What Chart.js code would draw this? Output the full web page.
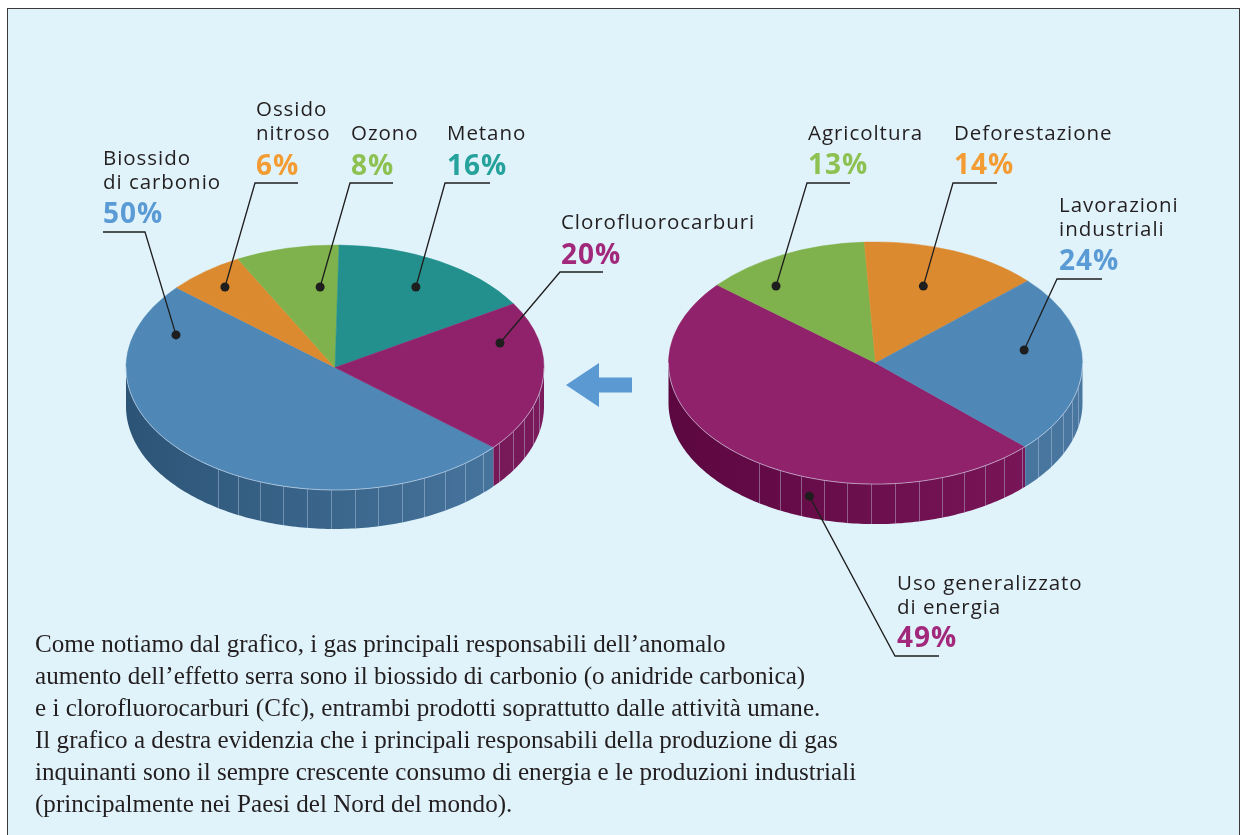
<!DOCTYPE html>
<html><head><meta charset="utf-8">
<script src="https://cdn.jsdelivr.net/npm/chart.js@4.4.1/dist/chart.umd.min.js"></script>
<style>
html,body{margin:0;padding:0;background:#fff;width:1242px;height:835px;overflow:hidden;position:relative}
#frame{position:absolute;left:7px;top:8px;width:1233px;height:840px;background:#e0f2fa;border:1.5px solid #3a3a3a;box-sizing:border-box}
canvas{position:absolute;left:0;top:0}
svg{position:absolute;left:0;top:0}
.lbl{position:absolute;font-family:"Open Sans";font-size:20.5px;letter-spacing:0.95px;line-height:24px;color:#231f20;white-space:pre}
.pct{position:absolute;font-family:"Open Sans";font-weight:700;font-size:28px;letter-spacing:1px;line-height:28px;white-space:nowrap}
#note{position:absolute;left:35px;top:628px;font-family:"Liberation Serif";font-size:25.1px;line-height:32px;color:#231f20;white-space:nowrap}
</style></head>
<body>
<div id="frame"></div>
<svg width="1242" height="835"><polygon points="566,385 599,363 599,377.5 632,377.5 632,392.5 599,392.5 599,407" fill="#5b99d2"/></svg>
<canvas id="c1" width="1242" height="835"></canvas>
<canvas id="c2" width="1242" height="835"></canvas>
<div id="labels"></div>
<div id="note">Come notiamo dal grafico, i gas principali responsabili dell’anomalo<br>aumento dell’effetto serra sono il biossido di carbonio (o anidride carbonica)<br>e i clorofluorocarburi (Cfc), entrambi prodotti soprattutto dalle attività umane.<br>Il grafico a destra evidenzia che i principali responsabili della produzione di gas<br>inquinanti sono il sempre crescente consumo di energia e le produzioni industriali<br>(principalmente nei Paesi del Nord del mondo).</div>
<script>
// ---- data ----
const gasCategories = ['Biossido\ndi carbonio', 'Ossido\nnitroso', 'Ozono', 'Metano', 'Clorofluorocarburi'];
const gasValues = [50, 6, 8, 16, 20];
const sourceCategories = ['Uso generalizzato\ndi energia', 'Agricoltura', 'Deforestazione', 'Lavorazioni\nindustriali'];
const sourceValues = [49, 13, 14, 24];

// ---- styles ----
const gasTop = ['#4f87b6', '#dc8a2f', '#7fb24c', '#23908d', '#90216b'];
const gasSide = [['#2c5476', '#4a78a2'], ['#b06a1e', '#c27a28'], ['#5e8c35', '#6c9a3e'], ['#1a6e6c', '#1f7c79'], ['#5c0942', '#7a1a5b']];
const gasPct = ['#5b9bd5', '#f39c34', '#8dc152', '#26a29c', '#a1287b'];
const srcTop = ['#90216b', '#7fb24c', '#dc8a2f', '#4f87b6'];
const srcSide = [['#5c0740', '#7d175b'], ['#5e8c35', '#6c9a3e'], ['#b06a1e', '#c27a28'], ['#3d6992', '#4a77a0']];
const srcPct = ['#a1287b', '#8dc152', '#f39c34', '#5b9bd5'];

const W = 1242, H = 835;
const ribs = [];
for (let d = 12; d <= 128; d += 6.6) ribs.push(d);

const pie3d = {
  id: 'pie3d',
  beforeDatasetsDraw(chart, args, o) {
    const ctx = chart.ctx, arcs = chart.getDatasetMeta(0).data;
    const cx = arcs[0].x, cy = arcs[0].y, r = arcs[0].outerRadius, k = o.k, depth = o.depth;
    arcs.forEach((a, i) => {
      const sc = o.sideColors[i];
      for (const off of [-2 * Math.PI, 0, 2 * Math.PI]) {
        const s = Math.max(a.startAngle, off), e = Math.min(a.endAngle, off + Math.PI);
        if (e <= s) continue;
        ctx.save();
        ctx.beginPath();
        const N = Math.max(8, Math.ceil((e - s) * 60));
        for (let j = 0; j <= N; j++) { const t = s + (e - s) * j / N; const x = cx + r * Math.cos(t), y = cy + k * r * Math.sin(t); j ? ctx.lineTo(x, y) : ctx.moveTo(x, y); }
        for (let j = N; j >= 0; j--) { const t = s + (e - s) * j / N; ctx.lineTo(cx + r * Math.cos(t), cy + k * r * Math.sin(t) + depth); }
        ctx.closePath();
        const g = ctx.createLinearGradient(cx - r, 0, cx + r, 0);
        g.addColorStop(0, sc[0]); g.addColorStop(1, sc[1]);
        ctx.fillStyle = g; ctx.fill();
        ctx.clip();
        ctx.strokeStyle = 'rgba(200,215,240,0.40)'; ctx.lineWidth = 1;
        for (const deg of ribs) {
          const t = deg * Math.PI / 180 + off; if (t < s || t > e) continue;
          const x = Math.round(cx + r * Math.cos(t)) + 0.5, y = cy + k * r * Math.sin(t);
          ctx.beginPath(); ctx.moveTo(x, y); ctx.lineTo(x, y + depth + 2); ctx.stroke();
        }
        ctx.restore();
      }
    });
    ctx.save();
    ctx.translate(cx, cy); ctx.scale(1, k); ctx.translate(-cx, -cy);
  },
  afterDatasetsDraw(chart, args, o) {
    const ctx = chart.ctx; ctx.restore();
    const arcs = chart.getDatasetMeta(0).data;
    const cx = arcs[0].x, cy = arcs[0].y, r = arcs[0].outerRadius, k = o.k, depth = o.depth;
    ctx.save();
    ctx.strokeStyle = 'rgba(220,230,245,0.55)'; ctx.lineWidth = 1;
    ctx.beginPath();
    for (let j = 0; j <= 180; j++) { const t = Math.PI * j / 180; const x = cx + r * Math.cos(t), y = cy + k * r * Math.sin(t); j ? ctx.lineTo(x, y) : ctx.moveTo(x, y); }
    ctx.stroke();
    ctx.strokeStyle = '#1e1e1e'; ctx.fillStyle = '#1e1e1e'; ctx.lineWidth = 1.3;
    o.leaders.forEach(L => {
      const a = arcs[L.i];
      const ang = a.startAngle + L.t * (a.endAngle - a.startAngle);
      let x, y;
      if (L.side != null) { x = cx + r * Math.cos(ang); y = cy + k * r * Math.sin(ang) + L.side * depth; }
      else { x = cx + L.rf * r * Math.cos(ang); y = cy + k * L.rf * r * Math.sin(ang); }
      ctx.beginPath(); ctx.moveTo(x, y);
      L.pts.forEach(p => ctx.lineTo(p[0], p[1]));
      ctx.stroke();
      ctx.beginPath(); ctx.arc(x, y, 4.5, 0, Math.PI * 2); ctx.fill();
    });
    ctx.restore();
  }
};

function makePie(id, labels, values, top, side, geo, leaders) {
  return new Chart(document.getElementById(id), {
    type: 'pie',
    data: { labels, datasets: [{ data: values, backgroundColor: top, borderColor: top, borderWidth: 0.6, hoverOffset: 0 }] },
    options: {
      responsive: false, animation: false, events: [],
      rotation: geo.rotation, radius: geo.r,
      layout: { padding: { left: geo.cx - geo.r, right: W - geo.cx - geo.r, top: geo.cy - geo.r, bottom: H - geo.cy - geo.r } },
      plugins: { legend: { display: false }, tooltip: { enabled: false },
        pie3d: { k: geo.k, depth: geo.depth, sideColors: side, leaders } }
    },
    plugins: [pie3d]
  });
}

makePie('c1', gasCategories, gasValues, gasTop, gasSide,
  { cx: 335, cy: 367.5, r: 209, k: 0.586, depth: 39, rotation: 130.7 },
  [
    { i: 0, t: 0.881, rf: 0.806, pts: [[145, 232], [103, 232]] },
    { i: 1, t: 0.49, rf: 0.842, pts: [[255, 183], [298, 183]] },
    { i: 2, t: 0.747, rf: 0.661, pts: [[350, 183], [393, 183]] },
    { i: 3, t: 0.51, rf: 0.763, pts: [[445, 183], [490, 183]] },
    { i: 4, t: 0.2375, rf: 0.814, pts: [[560, 272], [603, 272]] }
  ]);
makePie('c2', sourceCategories, sourceValues, srcTop, srcSide,
  { cx: 875.5, cy: 363, r: 207, k: 0.585, depth: 40, rotation: 133.7 },
  [
    { i: 0, t: 0.368, side: 0.46, pts: [[895, 656], [939, 656]] },
    { i: 1, t: 0.274, rf: 0.797, pts: [[807, 183], [850, 183]] },
    { i: 2, t: 0.458, rf: 0.676, pts: [[953, 183], [997, 183]] },
    { i: 3, t: 0.396, rf: 0.726, pts: [[1057, 279], [1102, 279]] }
  ]);

// ---- labels (layout positions) ----
const gasPos = [[103, 145, 198], [256, 96, 150], [351, 120, 150], [447, 120, 150], [561, 209, 239]];
const srcPos = [[897, 570, 622], [808, 119.5, 149], [954, 119.5, 149], [1059, 192, 245]];
const box = document.getElementById('labels');
function addLabels(cats, vals, pos, colors) {
  cats.forEach((c, i) => {
    const d = document.createElement('div'); d.className = 'lbl'; d.textContent = c;
    d.style.left = pos[i][0] + 'px'; d.style.top = pos[i][1] + 'px'; box.appendChild(d);
    const p = document.createElement('div'); p.className = 'pct'; p.textContent = vals[i] + '%';
    p.style.left = pos[i][0] + 'px'; p.style.top = pos[i][2] + 'px'; p.style.color = colors[i]; box.appendChild(p);
  });
}
addLabels(gasCategories, gasValues, gasPos, gasPct);
addLabels(sourceCategories, sourceValues, srcPos, srcPct);
</script>
</body></html>
